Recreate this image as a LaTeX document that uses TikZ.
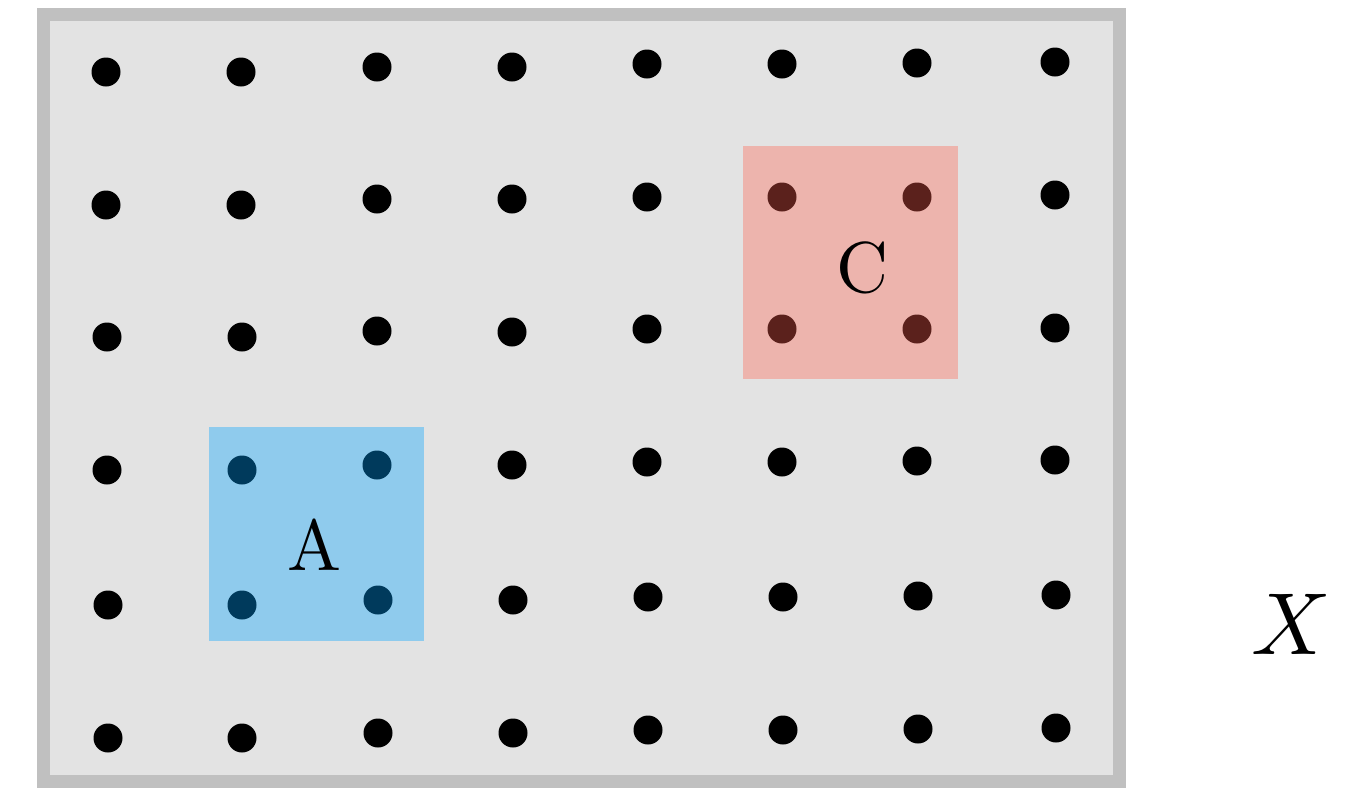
\documentclass[tikz,border=0pt]{standalone}
\begin{document}
\begin{tikzpicture}[x=1pt,y=-1pt,
  dotnode/.style={circle,fill=#1,inner sep=0pt,minimum size=29pt},
  dotnode/.default=black,
  region/.style={fill=#1,draw=none},
  biglabel/.style={scale=7.2,inner sep=0pt}]
\definecolor{bgfill}{HTML}{E3E3E3}
\definecolor{bgline}{HTML}{C0C0C0}
\definecolor{bluefill}{HTML}{8FCBED}
\definecolor{bluedot}{HTML}{003A5C}
\definecolor{redfill}{HTML}{EDB4AD}
\definecolor{reddot}{HTML}{5B211C}
\useasboundingbox (0,0) rectangle (1349,788);
\draw[fill=bgfill,draw=bgline,line width=13pt] (43.5,14) rectangle (1119,781);
\fill[bluefill] (209,427) rectangle (424,641);
\fill[redfill] (743,146) rectangle (958,379);
% row 1
\foreach \x/\y [count=\i] in {106/72,241/72,377/67,512/67,647/64,782/64,917/63,1055/62}
  \node[dotnode] (d1\i) at (\x,\y) {};
% row 2
\foreach \x/\y [count=\i] in {106/205,241/205,377/199,512/199,647/197,1055/195}
  \node[dotnode] (d2\i) at (\x,\y) {};
\node[dotnode=reddot] (c1) at (782,197) {};
\node[dotnode=reddot] (c2) at (917,197) {};
% row 3
\foreach \x/\y [count=\i] in {107/337,242/337,377/331,512/332,647/329,1055/328}
  \node[dotnode] (d3\i) at (\x,\y) {};
\node[dotnode=reddot] (c3) at (782,329) {};
\node[dotnode=reddot] (c4) at (917,329) {};
% row 4
\foreach \x/\y [count=\i] in {107/470,512/465,647/462,782/462,917/461,1055/460}
  \node[dotnode] (d4\i) at (\x,\y) {};
\node[dotnode=bluedot] (a1) at (242,470) {};
\node[dotnode=bluedot] (a2) at (377,465) {};
% row 5
\foreach \x/\y [count=\i] in {108/605,513/600,648/597,783/597,918/596,1056/595}
  \node[dotnode] (d5\i) at (\x,\y) {};
\node[dotnode=bluedot] (a3) at (242,605) {};
\node[dotnode=bluedot] (a4) at (378,600) {};
% row 6
\foreach \x/\y [count=\i] in {108/738,242/738,378/733,513/733,648/730,783/730,918/729,1056/728}
  \node[dotnode] (d6\i) at (\x,\y) {};
\node[biglabel] (la) at (314,545) {A};
\node[biglabel] (lc) at (862,268) {C};
\node[inner sep=0pt,scale=8.8] (lx) at (1291,624) {$X$};
\end{tikzpicture}
\end{document}
